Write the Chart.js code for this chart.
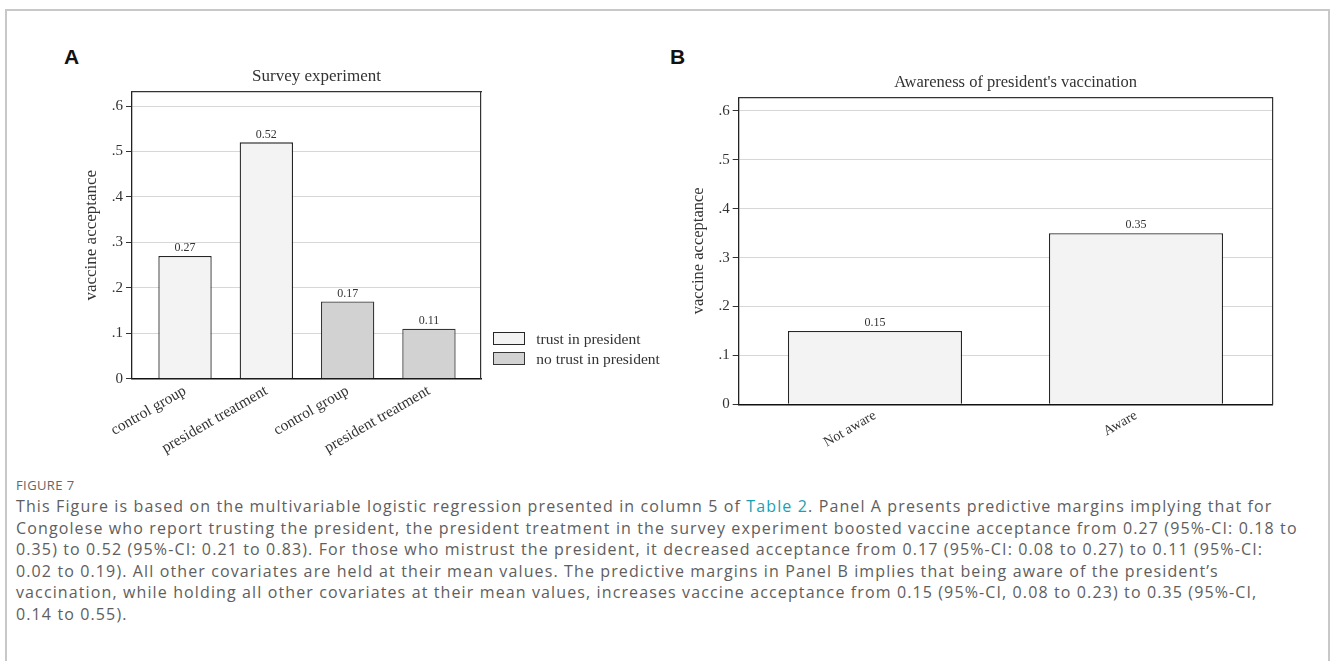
<!DOCTYPE html>
<html>
<head>
<meta charset="utf-8">
<script src="https://cdn.jsdelivr.net/npm/chart.js@4.4.1/dist/chart.umd.min.js"></script>
<style>
  html, body { margin: 0; padding: 0; background: #fff; width: 1330px; height: 661px; overflow: hidden; }
  #frame { position: absolute; left: 5px; top: 9px; width: 1325px; height: 700px; border: 2px solid #c8c8c8; box-sizing: border-box; }
  .tag { position: absolute; top: 45.6px; font-family: "Liberation Sans", Arial, sans-serif; font-weight: bold; font-size: 21px; line-height: 21px; color: #111; }
  canvas { position: absolute; }
  .lg-item { position: absolute; display: flex; align-items: center; height: 13px; white-space: nowrap;
             font-family: "Liberation Serif", "Times New Roman", serif; font-size: 15.5px; line-height: 13px; color: #333; }
  .lg-box { display: inline-block; width: 32px; height: 13px; box-sizing: border-box; border: 1.3px solid #2a2a2a; margin-right: 11px; }
  #caption { position: absolute; left: 16px; top: 474px; font-family: "Open Sans", "Noto Sans", sans-serif; color: #5e5e5e; white-space: nowrap; }
  #caption .fig { font-size: 13px; line-height: 22px; color: #666; letter-spacing: 0.4px; }
  #caption .ln { font-size: 16px; line-height: 21.6px; letter-spacing: 1.12px; }
  #caption a { color: #1aa0b5; text-decoration: none; }
</style>
</head>
<body>
<div id="frame"></div>
<div class="tag" style="left:64px">A</div>
<div class="tag" style="left:670px">B</div>
<canvas id="chartA" width="660" height="400" style="left:20px; top:60px"></canvas>
<canvas id="chartB" width="700" height="400" style="left:680px; top:60px"></canvas>
<div id="legendA"></div>
<div id="caption">
  <div class="fig">FIGURE 7</div>
  <div class="ln">This Figure is based on the multivariable logistic regression presented in column 5 of <a>Table 2</a>. Panel A presents predictive margins implying that for</div>
  <div class="ln">Congolese who report trusting the president, the president treatment in the survey experiment boosted vaccine acceptance from 0.27 (95%-CI: 0.18 to</div>
  <div class="ln">0.35) to 0.52 (95%-CI: 0.21 to 0.83). For those who mistrust the president, it decreased acceptance from 0.17 (95%-CI: 0.08 to 0.27) to 0.11 (95%-CI:</div>
  <div class="ln">0.02 to 0.19). All other covariates are held at their mean values. The predictive margins in Panel B implies that being aware of the president’s</div>
  <div class="ln">vaccination, while holding all other covariates at their mean values, increases vaccine acceptance from 0.15 (95%-CI, 0.08 to 0.23) to 0.35 (95%-CI,</div>
  <div class="ln">0.14 to 0.55).</div>
</div>
<script>
// ---- Panel A: survey experiment ----
const groupLabels = ['control group', 'president treatment', 'control group', 'president treatment'];
const trustPositions = [0, 1];
const trustValues = [0.27, 0.52];
const noTrustPositions = [2, 3];
const noTrustValues = [0.17, 0.11];

// ---- Panel B: awareness of the president's vaccination ----
const awarenessLabels = ['Not aware', 'Aware'];
const awarenessPositions = [0, 1];
const awarenessValues = [0.15, 0.35];

// ---- shared y axis ----
const yTickValues = [0, 0.1, 0.2, 0.3, 0.4, 0.5, 0.6];
const yTickLabels = ['0', '.1', '.2', '.3', '.4', '.5', '.6'];

const SERIF = '"Liberation Serif", "Times New Roman", serif';
const INK = '#333';

// value printed above each bar, taken from the bar's own data
const valueLabels = {
  id: 'valueLabels',
  afterDatasetsDraw(chart, args, opts) {
    const ctx = chart.ctx;
    ctx.save();
    ctx.font = opts.size + 'px ' + SERIF;
    ctx.fillStyle = INK;
    ctx.textAlign = 'center';
    ctx.textBaseline = 'middle';
    chart.data.datasets.forEach((ds, di) => {
      chart.getDatasetMeta(di).data.forEach((bar, i) => {
        ctx.fillText(ds.data[i].y.toFixed(2), bar.x, bar.y - opts.offset);
      });
    });
    ctx.restore();
  }
};

function points(xs, ys) { return xs.map((x, i) => ({ x: x, y: ys[i] })); }

function buildScales(cfg) {
  return {
    x: {
      type: 'linear', position: 'bottom', min: cfg.xMin, max: cfg.xMax, offset: false,
      afterBuildTicks: s => { s.ticks = cfg.labels.map((_, i) => ({ value: i })); },
      afterFit: s => { s.height = cfg.xHeight; },
      ticks: { callback: v => cfg.labels[v], minRotation: 30, maxRotation: 30, autoSkip: false,
               font: { family: SERIF, size: cfg.xFont }, color: INK, padding: cfg.xPad },
      grid: { display: false, drawTicks: false },
      border: { display: true, color: '#111', width: 1.6 }
    },
    y: {
      type: 'linear', position: 'left', min: 0, max: cfg.yMax,
      afterBuildTicks: s => { s.ticks = yTickValues.map(v => ({ value: v })); },
      afterFit: s => { s.width = cfg.yWidth; },
      ticks: { callback: (v, i) => yTickLabels[i], autoSkip: false,
               font: { family: SERIF, size: 15 }, color: INK, padding: 3 },
      grid: { color: '#d7d7d7', lineWidth: 1, tickColor: '#333', tickLength: 6, drawTicks: true },
      border: { display: true, color: '#222', width: 1.3 },
      title: { display: true, text: 'vaccine acceptance', color: INK,
               font: { family: SERIF, size: cfg.yTitleFont }, padding: { top: cfg.yTitlePad, bottom: 0 } }
    },
    // top and right edges of the plot frame; the right one also reserves the margin beside the plot
    xTop: {
      type: 'linear', position: 'top', min: cfg.xMin, max: cfg.xMax,
      afterFit: s => { s.height = 0; },
      ticks: { display: false }, grid: { display: false, drawTicks: false },
      border: { display: true, color: '#333', width: 1.2 }
    },
    yRight: {
      type: 'linear', position: 'right', min: 0, max: cfg.yMax,
      afterFit: s => { s.width = cfg.rightWidth; },
      ticks: { display: false }, grid: { display: false, drawTicks: false },
      border: { display: true, color: '#333', width: 1.2 }
    }
  };
}

function baseOptions(cfg) {
  return {
    responsive: false,
    animation: false,
    layout: { padding: { left: 0, right: cfg.padRight, top: 0, bottom: 0 } },
    scales: buildScales(cfg),
    plugins: {
      legend: { display: false },
      tooltip: { enabled: false },
      title: { display: true, text: cfg.title, color: INK,
               font: { family: SERIF, size: cfg.titleFont, weight: 'normal' },
               padding: { top: cfg.titlePadTop, bottom: cfg.titlePadBottom } },
      valueLabels: { size: 12, offset: 8 }
    }
  };
}

const chartA = new Chart(document.getElementById('chartA'), {
  type: 'bar',
  data: {
    datasets: [
      { label: 'trust in president', data: points(trustPositions, trustValues),
        backgroundColor: '#f3f3f3', borderColor: '#262626', borderWidth: 1.3,
        grouped: false, categoryPercentage: 1, barPercentage: 0.656 },
      { label: 'no trust in president', data: points(noTrustPositions, noTrustValues),
        backgroundColor: '#d2d2d2', borderColor: '#363636', borderWidth: 1.3,
        grouped: false, categoryPercentage: 1, barPercentage: 0.656 }
    ]
  },
  options: baseOptions({
    labels: groupLabels, xMin: -0.652, xMax: 3.64, xHeight: 81.3, xFont: 15.5, xPad: 3,
    yMax: 0.6315, yWidth: 112, yTitleFont: 17, yTitlePad: 61.5,
    rightWidth: 132, padRight: 67,
    title: 'Survey experiment', titleFont: 17, titlePadTop: 6.5, titlePadBottom: 4.8
  }),
  plugins: [valueLabels]
});

const chartB = new Chart(document.getElementById('chartB'), {
  type: 'bar',
  data: {
    datasets: [
      { label: 'vaccine acceptance', data: points(awarenessPositions, awarenessValues),
        backgroundColor: '#f3f3f3', borderColor: '#262626', borderWidth: 1.3,
        grouped: false, categoryPercentage: 1, barPercentage: 0.667 }
    ]
  },
  options: baseOptions({
    labels: awarenessLabels, xMin: -0.522, xMax: 1.523, xHeight: 55.7, xFont: 14, xPad: 3,
    yMax: 0.628, yWidth: 58.7, yTitleFont: 16.5, yTitlePad: 9.1,
    rightWidth: 78.7, padRight: 28.8,
    title: "Awareness of president's vaccination", titleFont: 16.5, titlePadTop: 13.1, titlePadBottom: 4.4
  }),
  plugins: [valueLabels]
});

// legend for panel A, built from the chart's datasets
(function buildLegend(chart, x, y, step) {
  const host = document.getElementById('legendA');
  chart.data.datasets.forEach((ds, i) => {
    const item = document.createElement('div');
    item.className = 'lg-item';
    item.style.left = x + 'px';
    item.style.top = (y + i * step) + 'px';
    const box = document.createElement('span');
    box.className = 'lg-box';
    box.style.background = ds.backgroundColor;
    box.style.borderColor = ds.borderColor;
    item.appendChild(box);
    item.appendChild(document.createTextNode(ds.label));
    host.appendChild(item);
  });
})(chartA, 493.3, 332.3, 20);
</script>
</body>
</html>
